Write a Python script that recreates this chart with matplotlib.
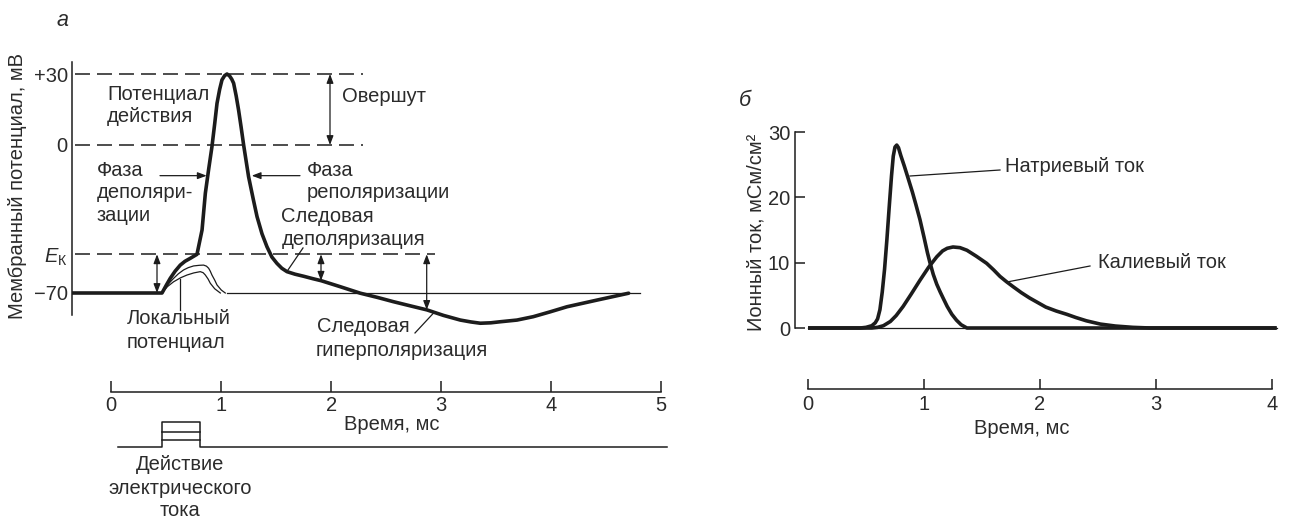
import numpy as np
import matplotlib
matplotlib.use("Agg")
import matplotlib.pyplot as plt

plt.rcParams['font.family'] = ['Liberation Sans', 'DejaVu Sans']
plt.rcParams['mathtext.fontset'] = 'custom'
plt.rcParams['mathtext.rm'] = 'Liberation Sans'
plt.rcParams['mathtext.it'] = 'Liberation Sans:italic'

# ---------------- data ----------------
# Panel a: action potential (time, ms ; membrane potential, mV)
ap_t = [-0.355, 0.461, 0.5, 0.536, 0.58, 0.627, 0.67, 0.718, 0.779, 0.825, 0.855, 0.885, 0.915, 0.94,
        0.961, 0.985, 1.006, 1.03, 1.052, 1.075, 1.095, 1.112, 1.135, 1.157, 1.18, 1.203, 1.248, 1.29,
        1.325, 1.37, 1.415, 1.46, 1.506, 1.55, 1.597, 1.67, 1.75, 1.83, 1.909, 2.08, 2.264, 2.42, 2.564,
        2.72, 2.87, 3.02, 3.173, 3.27, 3.355, 3.45, 3.536, 3.688, 3.836, 3.99, 4.143, 4.42, 4.703]
ap_v = [-70, -70, -66.3, -63.05, -59.7, -56.8, -55.0, -53.6, -51.7, -40.2, -22.8, -11.5, -0.8, 9.0,
        17.6, 23.5, 27.5, 29.3, 30.0, 29.2, 27.8, 26.1, 20.8, 14.8, 7.6, 0.0, -15.0, -25.5,
        -33.9, -42.0, -48.1, -53.0, -56.0, -58.3, -59.9, -61.1, -62.1, -63.2, -64.2, -67.0, -70.1, -72.1, -74.1,
        -76.1, -78.0, -80.6, -82.8, -83.7, -84.3, -84.1, -83.6, -82.8, -81.2, -78.9, -76.5, -73.3, -70.1]
# local (subthreshold) potentials
lp1_t = [0.461, 0.51, 0.566, 0.61, 0.657, 0.7, 0.748, 0.8, 0.839, 0.865, 0.885, 0.9, 0.915, 0.94, 0.961, 1.0, 1.036]
lp1_v = [-70, -66.2, -63.1, -60.9, -59.1, -58.0, -57.2, -56.9, -56.8, -57.3, -58.3, -59.7, -61.5, -63.9, -66.2, -68.6, -70]
lp2_t = [0.461, 0.51, 0.566, 0.63, 0.688, 0.75, 0.809, 0.835, 0.855, 0.88, 0.9, 0.94, 0.991]
lp2_v = [-70, -67.0, -64.7, -62.8, -61.5, -60.5, -59.9, -60.4, -61.5, -63.4, -65.4, -68.0, -70]
V_REST = -70
V_EK = -51.7
V_ZERO = 0
V_PEAK = 30
ytick_vals = [V_REST, V_EK, V_ZERO, V_PEAK]
ytick_labels = ['\u221270', r'$E_{\mathregular{К}}$', '0', '+30']
time_ticks_a = [0, 1, 2, 3, 4, 5]
# stimulus (arbitrary current units)
stim_t = [0.064, 0.465, 0.465, 0.806, 0.806, 5.05]
stim_v = [0, 0, 1.0, 1.0, 0, 0]
stim_levels = [0.27, 0.61]
stim_on, stim_off = 0.465, 0.806

# Panel b: ionic conductances (ms ; mS/cm^2)
na_t = [0, 0.45, 0.5, 0.55, 0.58, 0.6, 0.62, 0.64, 0.66, 0.68, 0.7, 0.72, 0.735, 0.75, 0.765,
        0.78, 0.8, 0.83, 0.86, 0.9, 0.93, 0.965, 1.0, 1.03, 1.05, 1.08, 1.11, 1.14, 1.167, 1.2,
        1.24, 1.28, 1.32, 1.37, 4.04]
na_g = [0, 0, 0.1, 0.35, 0.8, 1.4, 2.8, 5.5, 9.0, 13.5, 18.5, 23.3, 26.3, 27.7, 28.0,
        27.6, 26.4, 24.8, 23.1, 20.8, 18.9, 16.6, 13.9, 11.5, 10.1, 8.2, 6.7, 5.5, 4.5, 3.3,
        2.1, 1.2, 0.5, 0.0, 0.0]
k_t = [0, 0.55, 0.6, 0.65, 0.71, 0.76, 0.82, 0.89, 0.965, 1.04, 1.11, 1.16, 1.2, 1.25,
       1.31, 1.37, 1.45, 1.54, 1.6, 1.655, 1.71, 1.77, 1.84, 1.91, 1.98, 2.05, 2.14,
       2.23, 2.31, 2.4, 2.46, 2.52, 2.65, 2.8, 2.95, 4.04]
k_g = [0, 0, 0.1, 0.35, 1.0, 1.9, 3.3, 5.2, 7.3, 9.3, 10.9, 11.8, 12.2, 12.4,
       12.3, 11.9, 11.0, 9.9, 8.9, 7.9, 7.1, 6.3, 5.4, 4.6, 3.9, 3.2, 2.6,
       2.1, 1.6, 1.1, 0.85, 0.6, 0.3, 0.1, 0.0, 0.0]
yticks_b = [0, 10, 20, 30]
time_ticks_b = [0, 1, 2, 3, 4]

# ---------------- layout ----------------
W, H = 1291, 517
fig = plt.figure(figsize=(W / 100, H / 100), dpi=100)
INK = '#1c1c1c'
TXT = '#2b2b2b'
FS = 14.5


def P(x, y):
    return (x / W, 1 - y / H)


def axrect(l, t, r, b):
    return fig.add_axes([l / W, 1 - b / H, (r - l) / W, (b - t) / H])


def ftext(x, y, s, ha='left', **kw):
    fig.text(*P(x, y), s, ha=ha, va='center', fontsize=FS, color=TXT, **kw)


# piecewise-linear potential scale (schematic axis)
V_KN = [-300, -70, 0, 30, 300]
U_KN = [-230 * 148 / 70, 0, 148, 219, 219 + 270 * 71 / 30]


def fwd(v):
    return np.interp(v, V_KN, U_KN)


def inv(u):
    return np.interp(u, U_KN, V_KN)


def ta(x):
    return (x - 111.3) / 110.0


def tb(x):
    return (x - 808) / 116.0


# ---------- panel a ----------
ax1 = axrect(72, 55, 683, 335)
ax1.set_yscale('function', functions=(fwd, inv))
ax1.set_xlim(ta(72), ta(683))
ax1.set_ylim(inv(293 - 335), inv(293 - 55))
for s in ['top', 'right', 'bottom']:
    ax1.spines[s].set_visible(False)
ax1.spines['left'].set_bounds(inv(293 - 315), inv(293 - 62))
ax1.spines['left'].set_linewidth(1.1)
ax1.spines['left'].set_color(INK)
ax1.set_xticks([])
ax1.set_yticks(ytick_vals)
ax1.set_yticklabels(ytick_labels)
ax1.yaxis.set_minor_locator(matplotlib.ticker.NullLocator())
ax1.tick_params(axis='y', length=0, pad=3, labelsize=FS, labelcolor=TXT)
ax1.patch.set_alpha(0)

dash = (0, (9.8, 4.6))
t0 = ta(75)
ax1.plot([t0, ta(363)], [V_PEAK, V_PEAK], ls=dash, lw=1.1, color=INK)
ax1.plot([t0, ta(363)], [V_ZERO, V_ZERO], ls=dash, lw=1.1, color=INK)
ax1.plot([t0, ta(435)], [V_EK, V_EK], ls=dash, lw=1.1, color=INK)
ax1.plot([1.05, 4.81], [V_REST, V_REST], lw=0.9, color=INK)
ax1.plot(lp1_t, lp1_v, lw=0.9, color=INK, solid_joinstyle='round')
ax1.plot(lp2_t, lp2_v, lw=0.9, color=INK, solid_joinstyle='round')
ax1.plot(ap_t, ap_v, lw=2.6, color=INK, solid_joinstyle='round', solid_capstyle='round')

arr2 = dict(arrowstyle='<|-|>,head_length=0.45,head_width=0.17', lw=0.9, color=INK,
            shrinkA=0, shrinkB=0, mutation_scale=12)
arr1 = dict(arrowstyle='-|>,head_length=0.45,head_width=0.17', lw=0.9, color=INK,
            shrinkA=0, shrinkB=0, mutation_scale=12)
ax1.annotate('', xy=(ta(330), V_PEAK), xytext=(ta(330), V_ZERO), arrowprops=arr2)
ax1.annotate('', xy=(ta(157), V_EK), xytext=(ta(157), V_REST), arrowprops=arr2)
ax1.annotate('', xy=(ta(321), V_EK), xytext=(ta(321), -64.2), arrowprops=arr2)
ax1.annotate('', xy=(ta(426.7), V_EK), xytext=(ta(426.7), -78.0), arrowprops=arr2)
ax1.annotate('', xy=(ta(206.7), -14.5), xytext=(ta(160), -14.5), arrowprops=arr1)
ax1.annotate('', xy=(ta(251.7), -14.5), xytext=(ta(300), -14.5), arrowprops=arr1)
# leader lines
ax1.plot([ta(288), ta(303)], [-59.1, -48.7], lw=0.9, color=INK)
ax1.plot([ta(415), ta(433.3)], [-88.9, -79.6], lw=0.9, color=INK)
ax1.plot([ta(180), ta(180)], [-63.6, -78.0], lw=0.9, color=INK)

# time axis a
ax1t = axrect(72, 370, 683, 391.7)
ax1t.set_xlim(ta(72), ta(683))
for s in ['top', 'right', 'left']:
    ax1t.spines[s].set_visible(False)
ax1t.spines['bottom'].set_bounds(0, 5)
ax1t.spines['bottom'].set_linewidth(1.1)
ax1t.spines['bottom'].set_color(INK)
ax1t.set_yticks([])
ax1t.set_xticks(time_ticks_a)
ax1t.tick_params(axis='x', direction='in', length=7.7, width=1.1, color=INK, pad=3,
                 labelsize=FS, labelcolor=TXT)
ax1t.patch.set_alpha(0)

# stimulus
ax1s = axrect(72, 410, 683, 460)
ax1s.set_xlim(ta(72), ta(683))
ax1s.set_ylim(-0.545, 1.504)
ax1s.axis('off')
ax1s.plot(stim_t, stim_v, lw=1.1, color=INK)
for lv in stim_levels:
    ax1s.plot([stim_on, stim_off], [lv, lv], lw=1.1, color=INK)

# texts panel a
fig.text(*P(63, 20), 'а', ha='center', va='center', fontsize=FS + 1, color=TXT, style='italic')
fig.text(*P(17.5, 186), 'Мембранный потенциал, мВ', rotation=90, ha='center', va='center',
         fontsize=FS, color=TXT)
ftext(107, 95, 'Потенциал')
ftext(107, 117, 'действия')
ftext(342, 96, 'Овершут')
ftext(97, 171, 'Фаза')
ftext(97, 193, 'деполяри-')
ftext(97, 215, 'зации')
ftext(307, 171, 'Фаза')
ftext(307, 193, 'реполяризации')
ftext(281, 217, 'Следовая')
ftext(282, 240, 'деполяризация')
ftext(127, 318, 'Локальный')
ftext(127, 342, 'потенциал')
ftext(317, 327, 'Следовая')
ftext(316, 350, 'гиперполяризация')
ftext(391.7, 425, 'Время, мс', ha='center')
ftext(180, 465, 'Действие', ha='center')
ftext(180, 488, 'электрического', ha='center')
ftext(180, 510, 'тока', ha='center')

# ---------- panel b ----------
ax2 = axrect(795, 125, 1285, 335)
ax2.set_xlim(tb(795), tb(1285))
ax2.set_ylim((328 - 335) / 6.533, (328 - 125) / 6.533)
for s in ['top', 'right', 'bottom']:
    ax2.spines[s].set_visible(False)
ax2.spines['left'].set_bounds(0, 30)
ax2.spines['left'].set_linewidth(1.1)
ax2.spines['left'].set_color(INK)
ax2.set_xticks([])
ax2.set_yticks(yticks_b)
ax2.tick_params(axis='y', direction='in', length=7.5, width=1.1, color=INK, pad=3.5,
                labelsize=FS, labelcolor=TXT)
ax2.patch.set_alpha(0)
ax2.plot([0, 4.04], [0, 0], lw=0.9, color=INK)
ax2.plot(na_t, na_g, lw=2.6, color=INK, solid_joinstyle='round', solid_capstyle='butt')
ax2.plot(k_t, k_g, lw=2.6, color=INK, solid_joinstyle='round', solid_capstyle='butt')
ax2.plot([tb(910), tb(1000)], [(328 - 176) / 6.533, (328 - 170) / 6.533], lw=0.9, color=INK)
ax2.plot([tb(1007), tb(1090)], [(328 - 282) / 6.533, (328 - 266) / 6.533], lw=0.9, color=INK)

ax2t = axrect(795, 370, 1285, 389)
ax2t.set_xlim(tb(795), tb(1285))
for s in ['top', 'right', 'left']:
    ax2t.spines[s].set_visible(False)
ax2t.spines['bottom'].set_bounds(0, 4)
ax2t.spines['bottom'].set_linewidth(1.1)
ax2t.spines['bottom'].set_color(INK)
ax2t.set_yticks([])
ax2t.set_xticks(time_ticks_b)
ax2t.tick_params(axis='x', direction='in', length=7.5, width=1.1, color=INK, pad=4,
                 labelsize=FS, labelcolor=TXT)
ax2t.patch.set_alpha(0)

fig.text(*P(745, 101), 'б', ha='center', va='center', fontsize=FS + 1, color=TXT, style='italic')
fig.text(*P(756, 232), 'Ионный ток, мСм/см²', rotation=90, ha='center', va='center',
         fontsize=FS, color=TXT)
ftext(1005, 167, 'Натриевый ток')
ftext(1098, 263, 'Калиевый ток')
ftext(1021.7, 428, 'Время, мс', ha='center')

fig.savefig('out.png', dpi=100)
